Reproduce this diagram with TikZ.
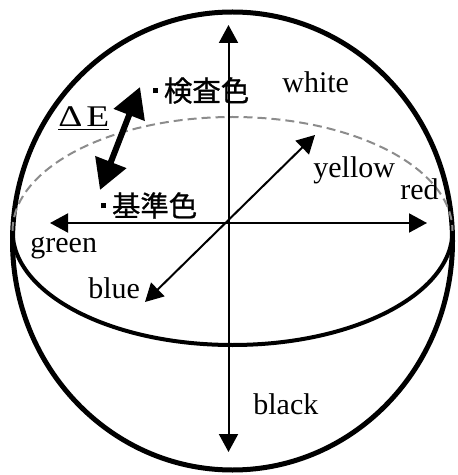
\documentclass[tikz,border=0pt]{standalone}
\usepackage{fontspec}
\setmainfont{Liberation Serif}
\newfontfamily\jpfont[FakeBold=1]{Noto Sans CJK JP}
\usepackage{graphicx}
\usepackage{tikz}
\usetikzlibrary{arrows.meta, calc}
\definecolor{inkK}{HTML}{000000}
\definecolor{dashGray}{HTML}{8C8C8C}
\tikzset{
  sphere/.style={inkK, line width=2.5pt},
  frontarc/.style={inkK, line width=2pt},
  backarc/.style={dashGray, line width=1pt, dash pattern=on 4.5pt off 2.5pt},
  axis/.style={{Triangle[length=9pt,width=9.5pt]}-{Triangle[length=9pt,width=9.5pt]},
    line width=1pt, inkK},
  deltaarrow/.style={{Triangle[length=15pt,width=16pt]}-{Triangle[length=15pt,width=16pt]},
    line width=3pt, inkK},
  axislabel/.style={anchor=base west, inner sep=0pt, font=\fontsize{15}{16}\selectfont},
  colorpt/.style={anchor=west, inner sep=0pt, font=\jpfont\fontsize{14.2}{15}\selectfont},
}
\newcommand{\ptmark}{\rule[4pt]{2.5pt}{2.5pt}\hspace{2.8pt}}

\begin{document}
\begin{tikzpicture}[x=0.5pt, y=-0.5pt]
    \useasboundingbox (0,0) rectangle (458,475);
    % sphere and equator
    \draw[sphere] (232.5,241) ellipse [x radius=220, y radius=229];
    \draw[backarc] (12.5,231) arc[start angle=180, end angle=360, x radius=220, y radius=114];
    \draw[frontarc] (12.5,231) arc[start angle=180, end angle=0, x radius=220, y radius=114];
    % axes
    \coordinate (up) at (228.5,25);
    \coordinate (down) at (228.5,452);
    \coordinate (lft) at (50,223);
    \coordinate (rgt) at (427,223);
    \coordinate (far) at (315,135);
    \coordinate (near) at (145,302);
    \draw[axis] (down) -- (up);
    \draw[axis] (lft) -- (rgt);
    \draw[axis] (near) -- (far);
    \node[axislabel] (white) at (282,93) {white};
    \node[axislabel] (yellow) at (313,178) {yellow};
    \node[axislabel] (red) at (400,200) {red};
    \node[axislabel] (green) at (30,252) {green};
    \node[axislabel] (blue) at (88,298) {blue};
    \node[axislabel] (black) at (253,414) {black};
    % colour difference
    \node[colorpt] (test) at (153,90.5) {\ptmark 検査色};
    \node[colorpt] (ref) at (101,205.5) {\ptmark 基準色};
    \node[axislabel] (dE) at (58,127) {\underline{\scalebox{1.25}[1]{Δ\hspace{1.5pt}E}}};
    \coordinate (dEtop) at (140,87);
    \coordinate (dEbot) at (100,190);
    \draw[deltaarrow] (dEbot) -- (dEtop);
  \end{tikzpicture}
\end{document}
